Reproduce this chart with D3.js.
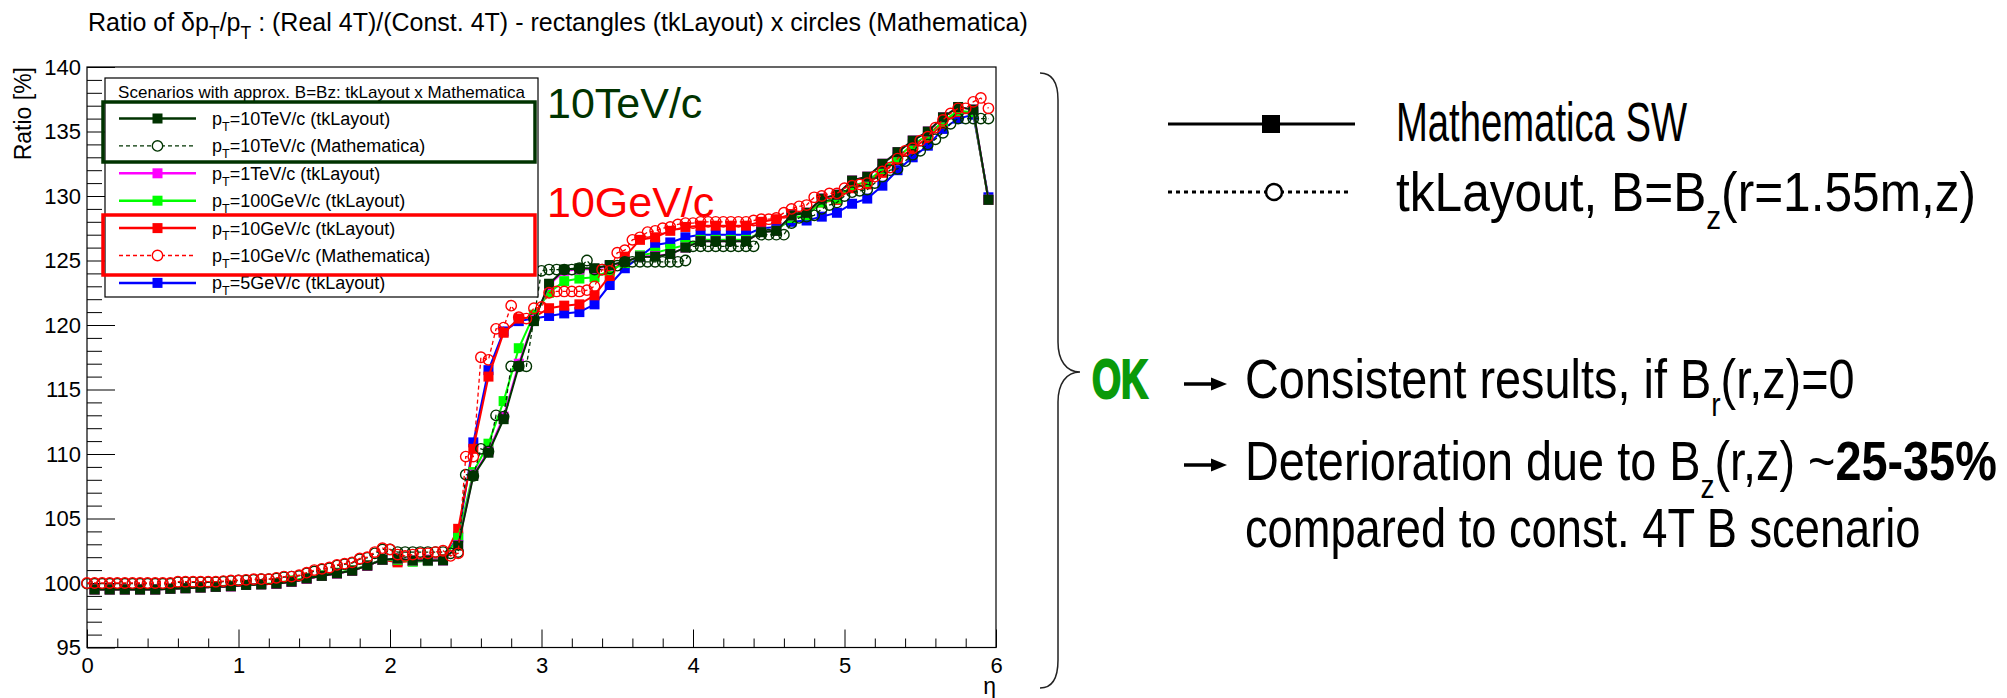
<!DOCTYPE html>
<html>
<head>
<meta charset="utf-8">
<script src="https://cdn.jsdelivr.net/npm/d3@7"></script>
<style>
body { margin: 0; background: #fff; }
svg text { font-family: "Liberation Sans", Arial, Helvetica, sans-serif; fill: #000; }
</style>
</head>
<body>
<div id="chart"></div>
<script>
// eta bins: tkLayout (squares) and Mathematica (circles)
var etaTk = [0.05, 0.15, 0.25, 0.35, 0.45, 0.55, 0.65, 0.75, 0.85, 0.95,
    1.05, 1.15, 1.25, 1.35, 1.45, 1.55, 1.65, 1.75, 1.85, 1.95,
    2.05, 2.15, 2.25, 2.35, 2.45, 2.55, 2.65, 2.75, 2.85, 2.95,
    3.05, 3.15, 3.25, 3.35, 3.45, 3.55, 3.65, 3.75, 3.85, 3.95,
    4.05, 4.15, 4.25, 4.35, 4.45, 4.55, 4.65, 4.75, 4.85, 4.95,
    5.05, 5.15, 5.25, 5.35, 5.45, 5.55, 5.65, 5.75, 5.85, 5.95];

var etaMath = [0.00, 0.05, 0.10, 0.15, 0.20, 0.25, 0.30, 0.35, 0.40, 0.45,
    0.50, 0.55, 0.60, 0.65, 0.70, 0.75, 0.80, 0.85, 0.90, 0.95,
    1.00, 1.05, 1.10, 1.15, 1.20, 1.25, 1.30, 1.35, 1.40, 1.45,
    1.50, 1.55, 1.60, 1.65, 1.70, 1.75, 1.80, 1.85, 1.90, 1.95,
    2.00, 2.05, 2.10, 2.15, 2.20, 2.25, 2.30, 2.35, 2.40, 2.45,
    2.50, 2.55, 2.60, 2.65, 2.70, 2.75, 2.80, 2.85, 2.90, 2.95,
    3.00, 3.05, 3.10, 3.15, 3.20, 3.25, 3.30, 3.35, 3.40, 3.45,
    3.50, 3.55, 3.60, 3.65, 3.70, 3.75, 3.80, 3.85, 3.90, 3.95,
    4.00, 4.05, 4.10, 4.15, 4.20, 4.25, 4.30, 4.35, 4.40, 4.45,
    4.50, 4.55, 4.60, 4.65, 4.70, 4.75, 4.80, 4.85, 4.90, 4.95,
    5.00, 5.05, 5.10, 5.15, 5.20, 5.25, 5.30, 5.35, 5.40, 5.45,
    5.50, 5.55, 5.60, 5.65, 5.70, 5.75, 5.80, 5.85, 5.90, 5.95];

// ratio [%] per series
var tk10TeV = [99.5, 99.5, 99.5, 99.5, 99.5, 99.55, 99.6, 99.65, 99.7, 99.75,
    99.85, 99.9, 99.95, 100.1, 100.35, 100.55, 100.75, 100.95, 101.35, 101.8,
    101.9, 101.75, 101.75, 101.75, 102.9, 108.3, 110.1, 112.7, 116.8, 120.3,
    123.2, 124.3, 124.4, 124.4, 124.65, 124.9, 125.3, 125.3, 125.5, 126.0,
    126.5, 126.5, 126.5, 126.5, 127.2, 127.3, 128.5, 128.7, 129.8, 130.1,
    131.2, 131.5, 132.5, 133.4, 134.3, 135.0, 136.1, 136.9, 136.7, 129.7];

var tk1TeV = [99.5, 99.5, 99.5, 99.5, 99.5, 99.55, 99.6, 99.65, 99.7, 99.75,
    99.85, 99.9, 99.95, 100.1, 100.35, 100.55, 100.75, 100.95, 101.35, 101.8,
    101.9, 101.75, 101.75, 101.75, 102.95, 108.4, 110.2, 112.9, 117.0, 120.4,
    123.1, 124.2, 124.3, 124.35, 124.6, 124.9, 125.3, 125.35, 125.5, 126.0,
    126.5, 126.5, 126.5, 126.5, 127.2, 127.3, 128.5, 128.7, 129.8, 130.1,
    131.2, 131.5, 132.5, 133.4, 134.3, 135.0, 136.1, 136.9, 136.7, 129.7];

var tk100GeV = [99.5, 99.5, 99.5, 99.5, 99.5, 99.55, 99.6, 99.65, 99.75, 99.8,
    99.85, 99.9, 100.0, 100.2, 100.4, 100.6, 100.8, 101.0, 101.4, 101.8,
    101.8, 101.65, 101.7, 101.8, 103.5, 108.6, 110.8, 114.1, 118.2, 120.8,
    122.5, 123.4, 123.6, 123.7, 124.2, 124.8, 125.4, 125.6, 125.9, 126.2,
    126.6, 126.6, 126.6, 126.6, 127.2, 127.3, 128.3, 128.5, 129.5, 129.8,
    130.8, 131.1, 132.1, 133.0, 134.0, 134.7, 135.8, 136.6, 136.5, 129.7];

var tk10GeV = [99.5, 99.5, 99.5, 99.5, 99.5, 99.55, 99.6, 99.65, 99.7, 99.75,
    99.85, 99.9, 99.95, 100.1, 100.35, 100.55, 100.75, 100.95, 101.35, 101.8,
    101.6, 101.7, 101.8, 101.85, 104.2, 110.4, 116.0, 119.4, 120.5, 120.6,
    121.3, 121.5, 121.6, 122.3, 123.8, 125.3, 126.6, 126.8, 127.3, 127.6,
    127.7, 127.7, 127.7, 127.7, 128.0, 128.2, 128.6, 128.7, 129.5, 129.7,
    130.6, 130.9, 131.8, 132.8, 133.7, 134.5, 135.6, 136.5, 136.5, 129.7];

var tk5GeV = [99.5, 99.5, 99.5, 99.5, 99.5, 99.55, 99.6, 99.65, 99.7, 99.75,
    99.85, 99.9, 99.95, 100.1, 100.35, 100.55, 100.75, 100.95, 101.35, 101.8,
    101.7, 101.7, 101.8, 101.85, 103.6, 110.9, 116.5, 119.5, 120.3, 120.5,
    120.7, 120.9, 121.0, 121.6, 123.1, 124.4, 125.3, 126.2, 126.4, 126.8,
    127.0, 127.0, 127.0, 127.0, 127.5, 127.6, 128.0, 128.1, 128.4, 128.7,
    129.4, 129.8, 130.8, 132.0, 133.0, 133.9, 135.2, 136.0, 136.3, 129.9];

var math10TeV = [99.95, 99.95, 99.95, 99.95, 99.95, 99.95, 99.95, 99.95, 99.95, 99.95,
    99.95, 99.95, 100.05, 100.05, 100.05, 100.05, 100.05, 100.05, 100.1, 100.15,
    100.2, 100.2, 100.25, 100.3, 100.3, 100.35, 100.45, 100.5, 100.55, 100.75,
    100.9, 101.05, 101.15, 101.35, 101.45, 101.55, 101.85, 101.95, 102.3, 102.6,
    102.6, 102.4, 102.4, 102.4, 102.4, 102.4, 102.4, 102.4, 102.3, 102.4,
    108.4, 108.3, 110.4, 110.2, 113.0, 112.9, 116.8, 116.8, 116.8, 120.5,
    124.2, 124.3, 124.3, 124.3, 124.3, 124.4, 125.0, 124.3, 124.3, 124.4,
    124.6, 124.9, 124.9, 124.9, 124.9, 124.9, 124.9, 124.9, 124.9, 125.0,
    126.1, 126.1, 126.1, 126.1, 126.1, 126.1, 126.1, 126.1, 126.1, 127.0,
    127.0, 127.0, 127.0, 127.9, 128.3, 128.4, 128.5, 129.0, 129.3, 129.5,
    130.0, 130.3, 130.4, 130.5, 131.0, 131.5, 132.0, 132.1, 132.7, 133.2,
    133.5, 134.0, 134.4, 134.9, 135.6, 136.0, 136.0, 136.0, 136.0, 136.0];

var math10GeV = [100.0, 100.0, 100.0, 100.0, 100.0, 100.0, 100.0, 100.0, 100.0, 100.0,
    100.0, 100.0, 100.1, 100.1, 100.1, 100.1, 100.1, 100.1, 100.15, 100.2,
    100.2, 100.25, 100.3, 100.3, 100.3, 100.4, 100.5, 100.5, 100.6, 100.8,
    101.0, 101.1, 101.2, 101.4, 101.5, 101.6, 101.9, 102.0, 102.4, 102.7,
    102.6, 102.2, 102.1, 102.2, 102.3, 102.3, 102.4, 102.5, 102.1, 102.3,
    109.8, 109.8, 117.5, 117.3, 119.7, 119.8, 121.5, 120.6, 120.5, 121.3,
    121.4, 122.5, 122.6, 122.6, 122.6, 122.6, 122.7, 123.0, 124.3, 124.2,
    125.6, 125.8, 126.6, 126.8, 127.2, 127.3, 127.5, 127.6, 127.8, 127.9,
    127.9, 128.0, 128.0, 128.0, 128.0, 128.0, 128.0, 128.0, 128.1, 128.2,
    128.2, 128.3, 128.7, 129.0, 129.2, 129.3, 129.9, 130.0, 130.2, 130.2,
    130.6, 130.8, 130.9, 131.0, 131.5, 131.9, 132.2, 132.9, 133.5, 133.7,
    134.3, 134.6, 135.3, 135.9, 136.4, 136.8, 136.8, 137.3, 137.6, 136.8];

// axis ticks
var yMajorTicks = [95, 100, 105, 110, 115, 120, 125, 130, 135, 140];
var yMinorTicks = [96, 97, 98, 99, 101, 102, 103, 104, 106, 107, 108, 109, 111, 112, 113, 114,
    116, 117, 118, 119, 121, 122, 123, 124, 126, 127, 128, 129, 131, 132, 133, 134, 136, 137, 138, 139];
var xMajorTicks = [0, 1, 2, 3, 4, 5, 6];
var xMinorTicks = [0.2, 0.4, 0.6, 0.8, 1.2, 1.4, 1.6, 1.8, 2.2, 2.4, 2.6, 2.8,
    3.2, 3.4, 3.6, 3.8, 4.2, 4.4, 4.6, 4.8, 5.2, 5.4, 5.6, 5.8];

var dkGreen = '#003300';
var okGreen = '#0a9a0a';

// drawing order: last one ends up on top
var tkSeries = [
    { values: tk5GeV, color: '#0000ff' },
    { values: tk10GeV, color: '#ff0000' },
    { values: tk100GeV, color: '#00ff00' },
    { values: tk1TeV, color: '#ff00ff' },
    { values: tk10TeV, color: dkGreen }
];
var mathSeries = [
    { values: math10TeV, color: dkGreen },
    { values: math10GeV, color: '#ff0000' }
];

var legendEntries = [
    { label: '=10TeV/c (tkLayout)', color: dkGreen, math: false },
    { label: '=10TeV/c (Mathematica)', color: dkGreen, math: true },
    { label: '=1TeV/c (tkLayout)', color: '#ff00ff', math: false },
    { label: '=100GeV/c (tkLayout)', color: '#00ff00', math: false },
    { label: '=10GeV/c (tkLayout)', color: '#ff0000', math: false },
    { label: '=10GeV/c (Mathematica)', color: '#ff0000', math: true },
    { label: '=5GeV/c (tkLayout)', color: '#0000ff', math: false }
];

var svg = d3.select('#chart')
    .append('svg')
    .attr('width', 2007)
    .attr('height', 698);

var plot = { left: 87, right: 996, top: 67, bottom: 647.5 };

var xScale = d3.scaleLinear().domain([0, 6]).range([plot.left, plot.right]);
var yScale = d3.scaleLinear().domain([95, 140]).range([plot.bottom, plot.top]);

// text with ROOT-like subscripts; parts = [[text, 'sub'|'bold'|null], ...]
function richText(parent, x, y, parts, size, subScale) {
    var t = parent.append('text')
        .attr('x', x)
        .attr('y', y)
        .style('font-size', size + 'px');
    var shift = 0;
    parts.forEach(function(p) {
        var span = t.append('tspan').text(p[0]);
        if (p[1] == 'sub') {
            span.style('font-size', (size * subScale) + 'px').attr('dy', size * 0.32 - shift);
            shift = size * 0.32;
        } else {
            if (shift != 0) span.attr('dy', -shift);
            shift = 0;
            if (p[1] == 'bold') span.style('font-weight', 'bold');
        }
    });
    return t;
}

// title
richText(svg, 88, 31, [['Ratio of \u03b4p', null], ['T', 'sub'], ['/p', null], ['T', 'sub'],
    [' : (Real 4T)/(Const. 4T) - rectangles (tkLayout) x circles (Mathematica)', null]], 25, 0.7);

// axes
var g = svg.append('g');

g.append('g')
    .attr('class', 'axis')
    .attr('transform', 'translate(' + plot.left + ',0)')
    .call(d3.axisLeft(yScale).tickValues(yMinorTicks).tickSize(-15).tickSizeOuter(0).tickFormat(''));
g.append('g')
    .attr('class', 'axis')
    .attr('transform', 'translate(' + plot.left + ',0)')
    .call(d3.axisLeft(yScale).tickValues(yMajorTicks).tickSize(-28).tickSizeOuter(0).tickPadding(6)
        .tickFormat(d3.format('d')));
g.append('g')
    .attr('class', 'axis')
    .attr('transform', 'translate(0,' + plot.bottom + ')')
    .call(d3.axisBottom(xScale).tickValues(xMinorTicks).tickSize(-9).tickSizeOuter(0).tickFormat(''));
g.append('g')
    .attr('class', 'axis')
    .attr('transform', 'translate(0,' + plot.bottom + ')')
    .call(d3.axisBottom(xScale).tickValues(xMajorTicks).tickSize(-18).tickSizeOuter(0).tickPadding(10)
        .tickFormat(d3.format('d')));

g.selectAll('.axis .domain').remove();
g.selectAll('.axis line').attr('stroke', '#000').attr('stroke-width', 1);
g.selectAll('.axis text')
    .style('font-family', '"Liberation Sans", Arial, Helvetica, sans-serif')
    .style('font-size', '22px')
    .attr('fill', '#000');

g.append('rect')
    .attr('x', plot.left)
    .attr('y', plot.top)
    .attr('width', plot.right - plot.left)
    .attr('height', plot.bottom - plot.top)
    .attr('fill', 'none')
    .attr('stroke', '#000')
    .attr('stroke-width', 1.2);

g.append('text')
    .attr('transform', 'translate(31,' + plot.top + ') rotate(-90)')
    .attr('text-anchor', 'end')
    .style('font-size', '23px')
    .text('Ratio [%]');

g.append('text')
    .attr('x', plot.right)
    .attr('y', 694)
    .attr('text-anchor', 'end')
    .style('font-size', '23px')
    .text('\u03b7');

// data
var data = svg.append('g');

tkSeries.forEach(function(s) {
    var line = d3.line()
        .x(function(d, i) { return xScale(etaTk[i]); })
        .y(function(d) { return yScale(d); });

    data.append('path')
        .attr('d', line(s.values))
        .attr('fill', 'none')
        .attr('stroke', s.color)
        .attr('stroke-width', 2);

    data.selectAll(null)
        .data(s.values)
        .enter()
        .append('rect')
        .attr('x', function(d, i) { return xScale(etaTk[i]) - 5; })
        .attr('y', function(d) { return yScale(d) - 5; })
        .attr('width', 10)
        .attr('height', 10)
        .attr('fill', s.color);
});

mathSeries.forEach(function(s) {
    var line = d3.line()
        .x(function(d, i) { return xScale(etaMath[i]); })
        .y(function(d) { return yScale(d); });

    data.append('path')
        .attr('d', line(s.values))
        .attr('fill', 'none')
        .attr('stroke', s.color)
        .attr('stroke-width', 1.3)
        .attr('stroke-dasharray', '4,3');

    data.selectAll(null)
        .data(s.values)
        .enter()
        .append('circle')
        .attr('cx', function(d, i) { return xScale(etaMath[i]); })
        .attr('cy', function(d) { return yScale(d); })
        .attr('r', 5.2)
        .attr('fill', 'none')
        .attr('stroke', s.color)
        .attr('stroke-width', 1.4);
});

// legend
var legend = svg.append('g');

legend.append('rect')
    .attr('x', 105)
    .attr('y', 78)
    .attr('width', 433)
    .attr('height', 219)
    .attr('fill', '#fff')
    .attr('stroke', '#000')
    .attr('stroke-width', 1.2);

legend.append('text')
    .attr('x', 321.5)
    .attr('y', 98)
    .attr('text-anchor', 'middle')
    .style('font-size', '17px')
    .text('Scenarios with approx. B=Bz: tkLayout x Mathematica');

legendEntries.forEach(function(e, i) {
    var ly = 118.5 + i * 27.4;
    legend.append('line')
        .attr('x1', 119).attr('x2', 196)
        .attr('y1', ly).attr('y2', ly)
        .attr('stroke', e.color)
        .attr('stroke-width', e.math ? 1.3 : 2.5)
        .attr('stroke-dasharray', e.math ? '4,3' : null);
    if (e.math) {
        legend.append('circle')
            .attr('cx', 157.5).attr('cy', ly).attr('r', 5.2)
            .attr('fill', '#fff')
            .attr('stroke', e.color)
            .attr('stroke-width', 1.4);
    } else {
        legend.append('rect')
            .attr('x', 152.5).attr('y', ly - 5)
            .attr('width', 10).attr('height', 10)
            .attr('fill', e.color);
    }
    richText(legend, 212, ly + 6.5, [['p', null], ['T', 'sub'], [e.label, null]], 18, 0.7);
});

legend.append('rect')
    .attr('x', 103).attr('y', 102)
    .attr('width', 432).attr('height', 60)
    .attr('fill', 'none')
    .attr('stroke', dkGreen)
    .attr('stroke-width', 3.5);

legend.append('rect')
    .attr('x', 103).attr('y', 215)
    .attr('width', 432).attr('height', 60)
    .attr('fill', 'none')
    .attr('stroke', '#ff0000')
    .attr('stroke-width', 3.5);

svg.append('text')
    .attr('x', 547).attr('y', 118)
    .style('font-size', '43px')
    .style('fill', dkGreen)
    .text('10TeV/c');

svg.append('text')
    .attr('x', 547).attr('y', 217)
    .style('font-size', '43px')
    .style('fill', '#ff0000')
    .text('10GeV/c');

// right side notes (condensed lettering: each line squeezed to the slide's width)
var notes = svg.append('g');

notes.append('path')
    .attr('d', 'M1040,73 C1052,73 1058,82 1058,100 L1058,342 C1058,360 1066,372 1080,372'
        + ' C1066,372 1058,384 1058,402 L1058,660 C1058,678 1052,688 1040,688')
    .attr('fill', 'none')
    .attr('stroke', '#222')
    .attr('stroke-width', 1.5);

notes.append('line')
    .attr('x1', 1168).attr('x2', 1355)
    .attr('y1', 124).attr('y2', 124)
    .attr('stroke', '#000').attr('stroke-width', 3);
notes.append('rect')
    .attr('x', 1262).attr('y', 115)
    .attr('width', 18).attr('height', 18)
    .attr('fill', '#000');

notes.append('line')
    .attr('x1', 1168).attr('x2', 1350)
    .attr('y1', 192).attr('y2', 192)
    .attr('stroke', '#000').attr('stroke-width', 3)
    .attr('stroke-dasharray', '4,4');
notes.append('circle')
    .attr('cx', 1274).attr('cy', 192).attr('r', 8)
    .attr('fill', '#fff')
    .attr('stroke', '#000').attr('stroke-width', 2.5);

function noteText(x, y, parts, size, width) {
    var t = richText(notes, 0, 0, parts, size, 0.6);
    var natural = t.node().getComputedTextLength();
    t.attr('transform', 'translate(' + x + ',' + y + ') scale(' + (width / natural).toFixed(3) + ',1)');
    return t;
}

function arrow(y) {
    notes.append('line')
        .attr('x1', 1184).attr('x2', 1214)
        .attr('y1', y).attr('y2', y)
        .attr('stroke', '#000').attr('stroke-width', 3.5);
    notes.append('path')
        .attr('d', 'M1211,' + (y - 6.5) + ' L1227,' + y + ' L1211,' + (y + 6.5) + ' Z')
        .attr('fill', '#000');
}

noteText(1396, 141, [['Mathematica SW', null]], 56, 291);
noteText(1396, 211, [['tkLayout, B=B', null], ['z', 'sub'], ['(r=1.55m,z)', null]], 56, 580);

noteText(1092, 398, [['OK', 'bold']], 56, 56)
    .select('tspan')
    .style('fill', okGreen)
    .style('stroke', okGreen)
    .style('stroke-width', 2.2);

arrow(384);
noteText(1245, 398, [['Consistent results, if B', null], ['r', 'sub'], ['(r,z)=0', null]], 56, 610);

arrow(465);
noteText(1245, 480, [['Deterioration due to B', null], ['z', 'sub'], ['(r,z) ~', null],
    ['25-35%', 'bold']], 56, 752);
noteText(1245, 547, [['compared to const. 4T B scenario', null]], 56, 676);
</script>
</body>
</html>
